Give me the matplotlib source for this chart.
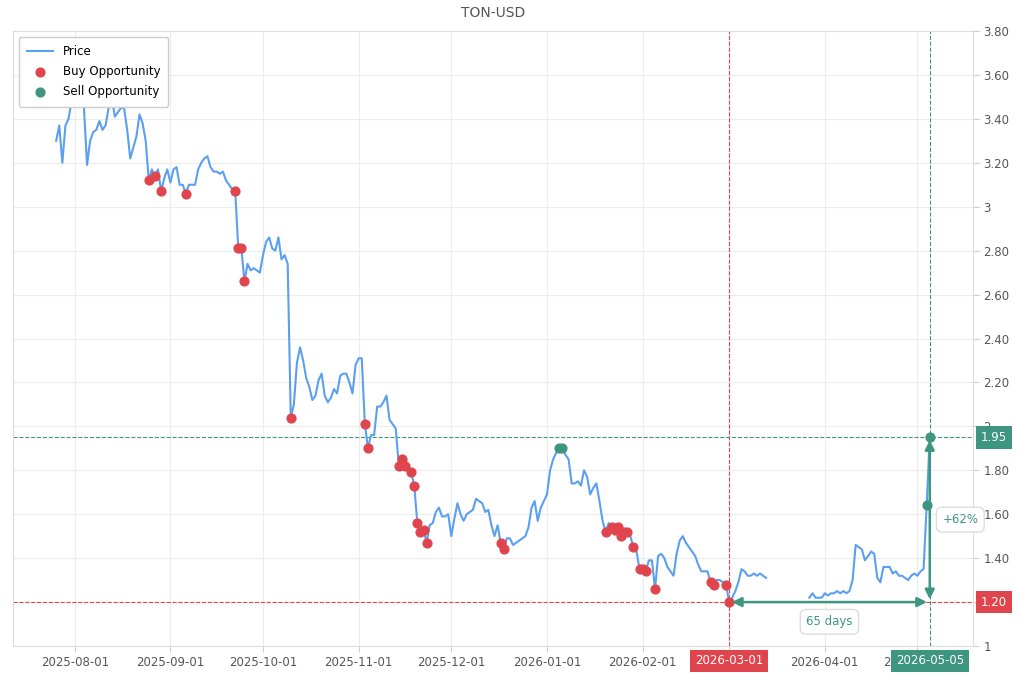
import numpy as np
import pandas as pd
import matplotlib
matplotlib.use('Agg')
import matplotlib.pyplot as plt
import matplotlib.dates as mdates
from matplotlib.ticker import FuncFormatter, MultipleLocator

nan = np.nan

# daily closes starting 2025-07-26 (gap in mid March)
prices = [
    3.30, 3.37, 3.20, 3.37, 3.40, 3.48, 3.58, 3.62, 3.56, 3.45,
    3.19, 3.30, 3.34, 3.35, 3.39, 3.35, 3.37, 3.45, 3.50, 3.41,
    3.43, 3.45, 3.45, 3.35, 3.22, 3.27, 3.32, 3.42, 3.38, 3.30,
    3.12, 3.17, 3.14, 3.17, 3.07, 3.13, 3.17, 3.11, 3.17, 3.18,
    3.10, 3.10, 3.06, 3.10, 3.10, 3.10, 3.17, 3.20, 3.22, 3.23,
    3.18, 3.16, 3.16, 3.15, 3.16, 3.12, 3.10, 3.08, 3.07, 2.81,
    2.81, 2.66, 2.74, 2.71, 2.72, 2.71, 2.70, 2.78, 2.84, 2.86,
    2.81, 2.80, 2.86, 2.76, 2.78, 2.74, 2.04, 2.10, 2.29, 2.36,
    2.30, 2.22, 2.18, 2.12, 2.14, 2.21, 2.24, 2.14, 2.11, 2.13,
    2.17, 2.15, 2.23, 2.24, 2.24, 2.20, 2.15, 2.28, 2.31, 2.31,
    2.01, 1.90, 1.96, 1.96, 2.09, 2.09, 2.11, 2.14, 2.03, 2.01,
    1.99, 1.82, 1.85, 1.82, 1.81, 1.79, 1.73, 1.56, 1.52, 1.53,
    1.47, 1.55, 1.56, 1.61, 1.63, 1.59, 1.59, 1.60, 1.50, 1.58,
    1.65, 1.60, 1.57, 1.60, 1.61, 1.62, 1.67, 1.66, 1.65, 1.61,
    1.62, 1.55, 1.50, 1.55, 1.47, 1.44, 1.49, 1.49, 1.46, 1.47,
    1.48, 1.49, 1.50, 1.54, 1.63, 1.66, 1.57, 1.63, 1.66, 1.69,
    1.80, 1.85, 1.88, 1.90, 1.90, 1.87, 1.85, 1.74, 1.74, 1.75,
    1.73, 1.80, 1.77, 1.69, 1.72, 1.74, 1.66, 1.57, 1.52, 1.56,
    1.54, 1.53, 1.54, 1.50, 1.52, 1.52, 1.50, 1.45, 1.43, 1.35,
    1.35, 1.34, 1.39, 1.39, 1.26, 1.41, 1.42, 1.40, 1.36, 1.34,
    1.32, 1.42, 1.48, 1.50, 1.47, 1.45, 1.43, 1.41, 1.37, 1.34,
    1.34, 1.34, 1.29, 1.28, 1.30, 1.30, 1.29, 1.28, 1.20, 1.22,
    1.25, 1.29, 1.35, 1.34, 1.32, 1.32, 1.33, 1.32, 1.33, 1.32,
    1.31, nan, nan, nan, nan, nan, nan, nan, nan, nan,
    nan, nan, nan, nan, 1.22, 1.24, 1.22, 1.22, 1.22, 1.24,
    1.23, 1.24, 1.24, 1.25, 1.24, 1.25, 1.24, 1.25, 1.30, 1.46,
    1.45, 1.44, 1.39, 1.41, 1.43, 1.42, 1.31, 1.29, 1.36, 1.36,
    1.36, 1.33, 1.34, 1.32, 1.32, 1.31, 1.30, 1.32, 1.33, 1.32,
    1.34, 1.35, 1.64, 1.95,
]
dates = pd.date_range('2025-07-26', periods=len(prices), freq='D')
price = pd.Series(prices, index=dates)

buy_dates = [
    '2025-08-25', '2025-08-27', '2025-08-29', '2025-09-06', '2025-09-22',
    '2025-09-23', '2025-09-24', '2025-09-25', '2025-10-10', '2025-11-03',
    '2025-11-04', '2025-11-14', '2025-11-15', '2025-11-16', '2025-11-18',
    '2025-11-19', '2025-11-20', '2025-11-21', '2025-11-22', '2025-11-23',
    '2025-12-17', '2025-12-18', '2026-01-20', '2026-01-22', '2026-01-23',
    '2026-01-24', '2026-01-25', '2026-01-26', '2026-01-27', '2026-01-29',
    '2026-01-31', '2026-02-01', '2026-02-02', '2026-02-05', '2026-02-23',
    '2026-02-24', '2026-02-28', '2026-03-01',
]
sell_dates = ['2026-01-05', '2026-01-06', '2026-05-04', '2026-05-05']

entry_date, exit_date = '2026-03-01', '2026-05-05'
entry_price, exit_price = 1.20, 1.95

BLUE = '#5b9ff0'
RED = '#e0454d'
GREEN = '#3f9680'
GRID = '#ececec'
TXT = '#555555'
FS = 8.5

buy_x = pd.to_datetime(buy_dates)
sell_x = pd.to_datetime(sell_dates)
t0, t1 = pd.Timestamp(entry_date), pd.Timestamp(exit_date)

fig = plt.figure(figsize=(10.2, 6.8), dpi=100)
ax = fig.add_axes([0.0127, 0.05, 0.9412, 0.9044])

ax.plot(price.index, price.values, color=BLUE, lw=1.5, label='Price', zorder=3)
ax.scatter(buy_x, price.loc[buy_x].values, s=40, color=RED, label='Buy Opportunity', zorder=4)
ax.scatter(sell_x, price.loc[sell_x].values, s=40, color=GREEN, label='Sell Opportunity', zorder=4)

# reference lines
ax.axhline(exit_price, color=GREEN, ls='--', lw=0.8, zorder=2)
ax.axhline(entry_price, color=RED, ls='--', lw=0.8, zorder=2)
ax.axvline(t0, color=RED, ls='--', lw=0.8, zorder=2)
ax.axvline(t1, color=GREEN, ls='--', lw=0.8, zorder=2)

# arrows
ax.annotate('', xy=(t1, entry_price), xytext=(t0, entry_price),
            arrowprops=dict(arrowstyle='<|-|>', color=GREEN, lw=1.8, mutation_scale=14,
                            shrinkA=2, shrinkB=2), zorder=5)
ax.annotate('', xy=(t1, exit_price), xytext=(t1, entry_price),
            arrowprops=dict(arrowstyle='<|-|>', color=GREEN, lw=1.8, mutation_scale=14,
                            shrinkA=2, shrinkB=2), zorder=5)

days = (t1 - t0).days
pct = (exit_price / entry_price - 1) * 100
box = dict(boxstyle='round,pad=0.5', fc='white', ec='#dddddd', lw=1)
ax.text(t0 + (t1 - t0) / 2, 1.11, f'{days} days', color=GREEN, fontsize=FS,
        ha='center', va='center', bbox=box, zorder=6)
ax.annotate(f'+{pct:.0f}%', xy=(t1, (entry_price + exit_price) / 2), xytext=(22, 0),
            textcoords='offset points', color=GREEN, fontsize=FS, ha='center', va='center',
            bbox=box, zorder=6, annotation_clip=False)

# axes styling
ax.set_ylim(1, 3.8)
ax.set_xlim(pd.Timestamp('2025-07-12'), pd.Timestamp('2026-05-19'))
ax.yaxis.tick_right()
ax.yaxis.set_major_locator(MultipleLocator(0.2))
ax.yaxis.set_major_formatter(FuncFormatter(
    lambda v, p: f'{v:.0f}' if abs(v - round(v)) < 1e-6 else f'{v:.2f}'))
ax.xaxis.set_major_locator(mdates.MonthLocator())
ax.xaxis.set_major_formatter(mdates.DateFormatter('%Y-%m-%d'))
ax.tick_params(axis='both', colors='#cccccc', labelcolor=TXT, labelsize=FS, length=4)
ax.grid(True, color=GRID, lw=0.8)
ax.set_axisbelow(True)
for s in ax.spines.values():
    s.set_color('#dddddd')

ax.set_title('TON-USD', color=TXT, fontsize=10, pad=10)

# value tags on axes
tag = dict(boxstyle='square,pad=0.4', ec='none')
ytr = ax.get_yaxis_transform()
ax.text(1.008, exit_price, f'{exit_price:.2f}', transform=ytr, color='white', fontsize=FS,
        ha='left', va='center', bbox=dict(tag, fc=GREEN), clip_on=False, zorder=7)
ax.text(1.008, entry_price, f'{entry_price:.2f}', transform=ytr, color='white', fontsize=FS,
        ha='left', va='center', bbox=dict(tag, fc=RED), clip_on=False, zorder=7)
xtr = ax.get_xaxis_transform()
ax.text(t0, -0.024, entry_date, transform=xtr, color='white', fontsize=FS,
        ha='center', va='center', bbox=dict(tag, fc=RED), clip_on=False, zorder=7)
ax.text(t1, -0.024, exit_date, transform=xtr, color='white', fontsize=FS,
        ha='center', va='center', bbox=dict(tag, fc=GREEN), clip_on=False, zorder=7)

leg = ax.legend(loc='upper left', fontsize=FS, frameon=True, framealpha=1, borderpad=0.7,
                handlelength=2.2, labelspacing=0.6)
leg.get_frame().set_edgecolor('#cccccc')

fig.savefig('out.png', dpi=100)
